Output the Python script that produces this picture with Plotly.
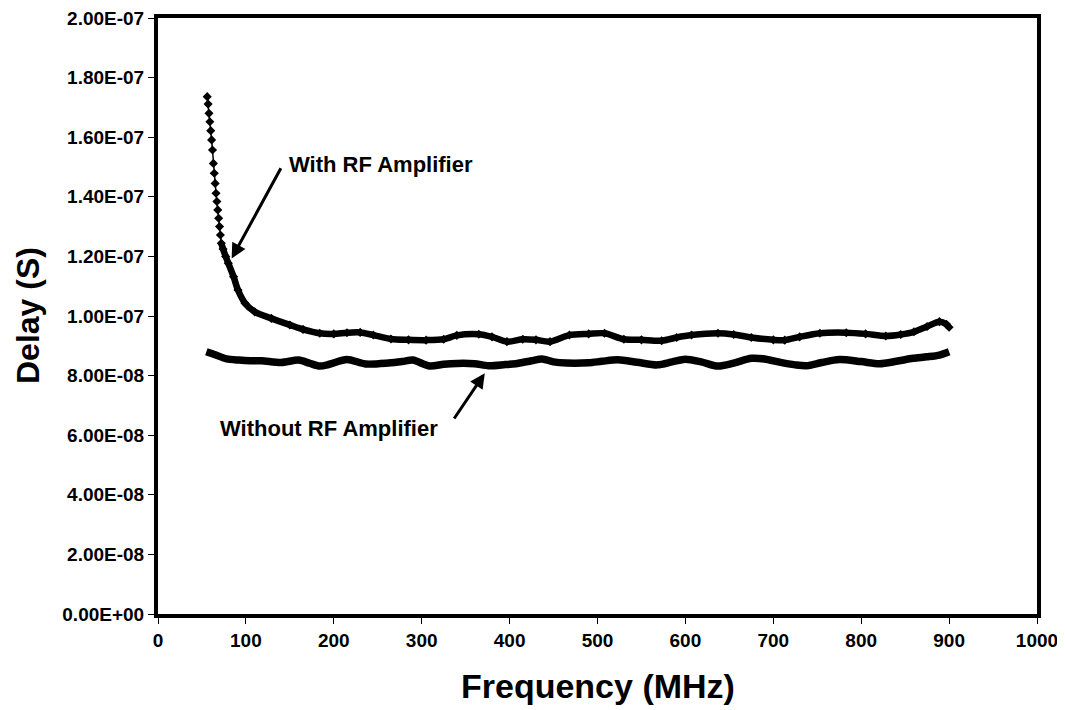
import plotly.graph_objects as go

# ---- data (delay values in units of 1e-8 s) ----
freq_with = [56, 57, 58, 59, 60, 61, 62, 63, 64, 65, 66, 67, 68, 69, 70, 71, 72,
             74, 77, 80, 86, 91, 99, 110, 129, 150, 165, 184, 200, 215, 230, 245,
             265, 285, 305, 325, 340, 365, 380, 397, 415, 430, 446, 468, 490, 508,
             530, 550, 573, 590, 607, 637, 655, 675, 700, 713, 730, 753, 783, 805,
             828, 845, 860, 875, 889, 897, 900]
delay_with_e8 = [17.36, 17.11, 16.80, 16.52, 16.22, 15.91, 15.57, 15.12, 14.79, 14.45,
                 14.12, 13.84, 13.56, 13.28, 13.00, 12.72, 12.44,
                 12.25, 12.00, 11.77, 11.32, 10.87, 10.43, 10.14, 9.92, 9.70, 9.55,
                 9.42, 9.40, 9.44, 9.45, 9.36, 9.23, 9.20, 9.19, 9.22, 9.35, 9.39,
                 9.30, 9.14, 9.22, 9.20, 9.14, 9.36, 9.40, 9.42, 9.22, 9.20, 9.17,
                 9.28, 9.36, 9.42, 9.38, 9.28, 9.20, 9.19, 9.30, 9.42, 9.44, 9.40,
                 9.33, 9.38, 9.47, 9.65, 9.81, 9.72, 9.62]

freq_without = [55, 65, 78, 92, 105, 118, 140, 160, 172, 184, 195, 215, 236, 262, 278,
                290, 309, 325, 340, 360, 376, 395, 407, 425, 437, 450, 465, 490, 505,
                523, 545, 568, 585, 600, 618, 637, 655, 675, 690, 707, 725, 738, 755,
                775, 800, 821, 840, 859, 875, 889, 900]
delay_without_e8 = [8.80, 8.70, 8.56, 8.52, 8.50, 8.50, 8.44, 8.52, 8.42, 8.32, 8.38,
                    8.54, 8.39, 8.42, 8.47, 8.52, 8.32, 8.38, 8.41, 8.40, 8.33, 8.37,
                    8.40, 8.50, 8.56, 8.46, 8.42, 8.43, 8.48, 8.53, 8.45, 8.36, 8.46,
                    8.55, 8.46, 8.32, 8.42, 8.58, 8.56, 8.45, 8.36, 8.33, 8.44, 8.54,
                    8.47, 8.40, 8.48, 8.58, 8.63, 8.69, 8.80]

x_tick_vals = [0, 100, 200, 300, 400, 500, 600, 700, 800, 900, 1000]
y_tick_vals_e8 = [0, 2, 4, 6, 8, 10, 12, 14, 16, 18, 20]
y_tick_labels = ["0.00E+00", "2.00E-08", "4.00E-08", "6.00E-08", "8.00E-08",
                 "1.00E-07", "1.20E-07", "1.40E-07", "1.60E-07", "1.80E-07", "2.00E-07"]

FONT = "Liberation Sans, Arial, sans-serif"
SCALE = 1e-8

y_with = [v * SCALE for v in delay_with_e8]
y_without = [v * SCALE for v in delay_without_e8]
band_idx = [i for i, f in enumerate(freq_with) if f >= 72]

fig = go.Figure()
fig.add_trace(go.Scatter(
    x=freq_with, y=y_with, mode="lines+markers",
    line=dict(color="black", width=1.5),
    marker=dict(symbol="diamond", size=7, color="black"),
    showlegend=False, hoverinfo="skip", cliponaxis=False))
fig.add_trace(go.Scatter(
    x=[freq_with[i] for i in band_idx], y=[y_with[i] for i in band_idx],
    mode="lines", line=dict(color="black", width=6.5, shape="spline", smoothing=0.8),
    showlegend=False, hoverinfo="skip"))
fig.add_trace(go.Scatter(
    x=freq_without, y=y_without, mode="lines",
    line=dict(color="black", width=7.5, shape="spline", smoothing=0.8),
    showlegend=False, hoverinfo="skip"))

axis_common = dict(showgrid=False, zeroline=False, showline=True, linecolor="black",
                   linewidth=4, mirror=True, ticks="outside", ticklen=6, tickwidth=1,
                   tickcolor="black", automargin=False, ticklabeloverflow="allow",
                   tickfont=dict(family=FONT, size=19, color="black", weight="bold"))

fig.update_xaxes(range=[0, 1000], tickvals=x_tick_vals,
                 ticktext=[str(v) for v in x_tick_vals], **axis_common)
fig.update_yaxes(range=[0, 20 * SCALE], tickvals=[v * SCALE for v in y_tick_vals_e8],
                 ticktext=y_tick_labels, **axis_common)

annots = [
    # arrows
    dict(x=83.8, y=11.93 * SCALE, ax=140.7, ay=15.01 * SCALE, xref="x", yref="y",
         axref="x", ayref="y", text="", showarrow=True, arrowhead=2, arrowsize=1,
         arrowwidth=3, arrowcolor="black"),
    dict(x=371.8, y=8.08 * SCALE, ax=335.8, ay=6.51 * SCALE, xref="x", yref="y",
         axref="x", ayref="y", text="", showarrow=True, arrowhead=2, arrowsize=1,
         arrowwidth=3, arrowcolor="black"),
    # labels
    dict(x=146.7, y=15.07 * SCALE, xref="x", yref="y", text="With RF Amplifier",
         showarrow=False, xanchor="left", yanchor="middle",
         font=dict(family=FONT, size=22, color="black", weight="bold")),
    dict(x=68.2, y=6.22 * SCALE, xref="x", yref="y", text="Without RF Amplifier",
         showarrow=False, xanchor="left", yanchor="middle",
         font=dict(family=FONT, size=22, color="black", weight="bold")),
    # axis titles
    dict(x=0.5, y=0, xref="paper", yref="paper", yshift=-72, text="Frequency (MHz)",
         showarrow=False, xanchor="center", yanchor="middle",
         font=dict(family=FONT, size=34, color="black", weight="bold")),
    dict(x=0, y=0.5, xref="paper", yref="paper", xshift=-130, text="Delay (S)",
         textangle=-90, showarrow=False, xanchor="center", yanchor="middle",
         font=dict(family=FONT, size=32, color="black", weight="bold")),
]

# page body has an 8px default margin; figure is sized/margined to compensate
fig.update_layout(
    width=1057, height=702,
    margin=dict(l=150, r=28, t=10, b=96),
    paper_bgcolor="white", plot_bgcolor="white",
    annotations=annots, showlegend=False,
    font=dict(family=FONT, color="black"),
)

fig.write_html("out.html")
